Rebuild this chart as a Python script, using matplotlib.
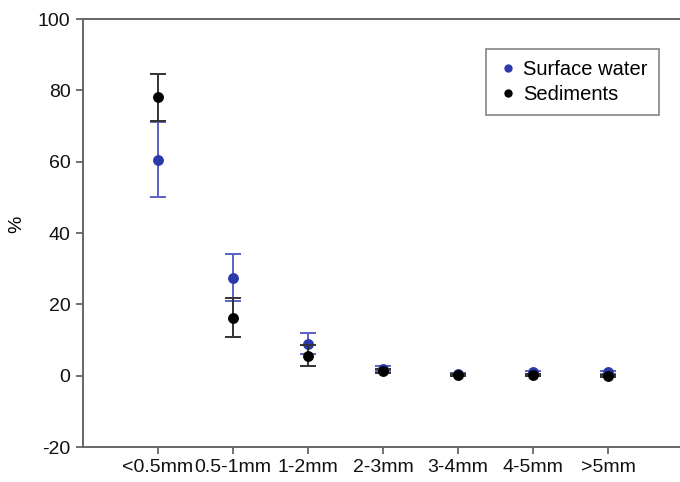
import matplotlib
matplotlib.use("Agg")
import matplotlib.pyplot as plt
from matplotlib.lines import Line2D
import numpy as np

categories = ["<0.5mm", "0.5-1mm", "1-2mm", "2-3mm", "3-4mm", "4-5mm", ">5mm"]
surface_water = [60.6, 27.5, 9.0, 2.0, 0.4, 1.0, 1.0]
surface_water_err = [10.4, 6.6, 3.0, 0.6, 0.3, 0.4, 0.4]
sediments = [78.0, 16.3, 5.6, 1.3, 0.3, 0.2, 0.0]
sediments_err = [6.7, 5.5, 3.0, 0.6, 0.3, 0.3, 0.3]

plt.rcParams['font.family'] = ['Liberation Sans', 'DejaVu Sans']
plt.rcParams['axes.unicode_minus'] = False

fig = plt.figure(figsize=(6.8, 4.82), dpi=100)
ax = fig.add_axes([83/680, 35/482, 600/680, 428/482])

blue = '#2b3aa8'
x = np.arange(1, len(categories) + 1)
ax.errorbar(x, surface_water, yerr=surface_water_err, fmt='o', color=blue,
            ecolor='#5a62c4', elinewidth=1.4, capsize=6, capthick=1.4,
            markersize=6.8, zorder=3)
ax.errorbar(x, sediments, yerr=sediments_err, fmt='o', color='#000000',
            ecolor='#333333', elinewidth=1.4, capsize=6, capthick=1.4,
            markersize=6.8, zorder=4)

ax.set_xlim(0, 8)
ax.set_ylim(-20, 100)
ax.set_yticks(np.arange(-20, 101, 20))
ax.set_xticks(x)
ax.set_xticklabels(categories)
ax.set_ylabel('%', fontsize=14)
ax.yaxis.label.set_verticalalignment('center')
ax.yaxis.set_label_coords(-0.11, 0.52)

for s in ['left', 'bottom', 'top']:
    ax.spines[s].set_color('#666666')
    ax.spines[s].set_linewidth(1.4)
ax.spines['right'].set_visible(False)
ax.tick_params(axis='both', direction='out', length=5, width=1.3, color='#666666',
               labelsize=14, labelcolor='#111111', pad=4)

handles = [Line2D([], [], marker='o', linestyle='none', color=blue, markersize=5),
           Line2D([], [], marker='o', linestyle='none', color='black', markersize=5)]
leg = ax.legend(handles, ['Surface water', 'Sediments'], loc='upper right',
                bbox_to_anchor=(0.96, 0.93),
                fontsize=14.5, frameon=True, fancybox=False, handletextpad=0.29,
                borderpad=0.55, labelspacing=0.3, handlelength=1.0, borderaxespad=0)
leg.get_frame().set_edgecolor('#666666')
leg.get_frame().set_linewidth(1.2)

fig.savefig('out.png', dpi=100)
